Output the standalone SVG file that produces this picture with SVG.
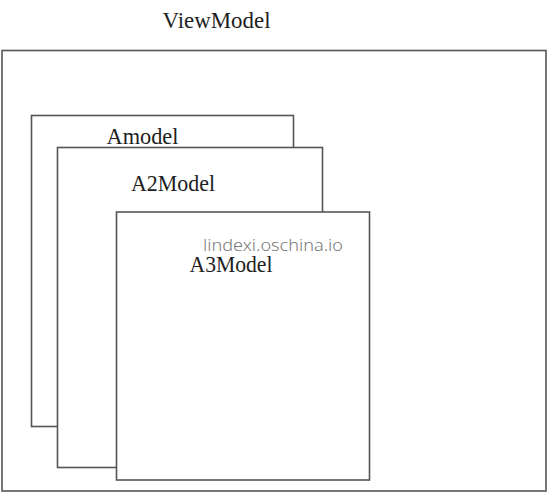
<svg xmlns="http://www.w3.org/2000/svg" width="548" height="493" viewBox="0 0 548 493">
<style>
.box{fill:#ffffff;stroke:#555555;stroke-width:1.6}
.lbl{font-family:"Liberation Serif","DejaVu Serif",serif;font-size:23px;fill:#1e1e1e}
.wm{font-family:"Noto Sans","Liberation Sans",sans-serif;font-size:16px;font-weight:300;fill:#7a7a7a}
</style>
<rect x="0" y="0" width="548" height="493" fill="#ffffff"/>
<g id="viewmodel">
<text class="lbl" x="162.5" y="27.5" textLength="108" lengthAdjust="spacingAndGlyphs">ViewModel</text>
<rect class="box" x="2" y="50.5" width="544" height="440.5"/>
</g>
<g id="amodel">
<rect class="box" x="31.5" y="115.5" width="262" height="311"/>
<text class="lbl" x="106.5" y="144" textLength="72" lengthAdjust="spacingAndGlyphs">Amodel</text>
</g>
<g id="a2model">
<rect class="box" x="57.5" y="147.5" width="265" height="320"/>
<text class="lbl" x="131" y="190.5" textLength="84" lengthAdjust="spacingAndGlyphs">A2Model</text>
</g>
<g id="a3model">
<rect class="box" x="116.5" y="212" width="253" height="268"/>
<text class="wm" x="203" y="250.5" textLength="140" lengthAdjust="spacingAndGlyphs">lindexi.oschina.io</text>
<text class="lbl" x="189.5" y="271.5" textLength="83" lengthAdjust="spacingAndGlyphs">A3Model</text>
</g>
<g id="connectors"></g>
</svg>
